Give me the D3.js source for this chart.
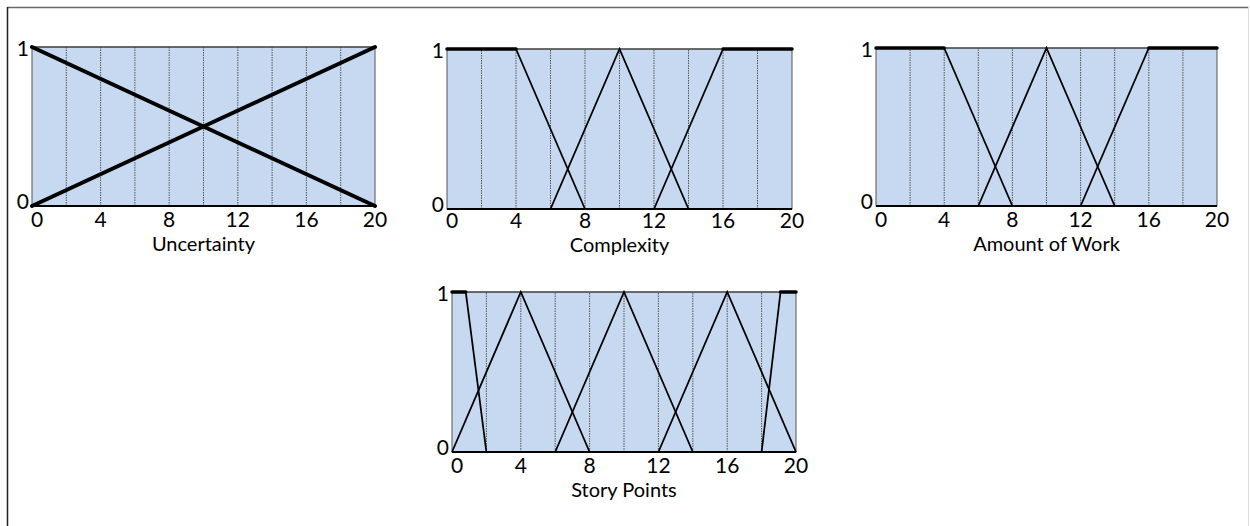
<!DOCTYPE html>
<html>
<head>
<meta charset="utf-8">
<script src="https://cdn.jsdelivr.net/npm/d3@7"></script>
<style>
  body { margin: 0; background: #fff; }
  text { font-family: Lato, "Open Sans", sans-serif; fill: #000; }
</style>
</head>
<body>
<div id="chart"></div>
<script>
// membership functions, [x, degree] points
var xTicks = [0, 4, 8, 12, 16, 20];
var yTicks = [0, 1];
var gridLines = [2, 4, 6, 8, 10, 12, 14, 16, 18];

var uncLow = [[0, 1], [20, 0]];
var uncHigh = [[0, 0], [20, 1]];

var cpxLowFlat = [[0, 1], [4, 1]];
var cpxLowRamp = [[4, 1], [8, 0]];
var cpxMid = [[6, 0], [10, 1], [14, 0]];
var cpxHighRamp = [[12, 0], [16, 1]];
var cpxHighFlat = [[16, 1], [20, 1]];

var workLowFlat = [[0, 1], [4, 1]];
var workLowRamp = [[4, 1], [8, 0]];
var workMid = [[6, 0], [10, 1], [14, 0]];
var workHighRamp = [[12, 0], [16, 1]];
var workHighFlat = [[16, 1], [20, 1]];

var spXsFlat = [[0, 1], [0.8, 1]];
var spXsRamp = [[0.8, 1], [2, 0]];
var spSmall = [[0, 0], [4, 1], [8, 0]];
var spMedium = [[6, 0], [10, 1], [14, 0]];
var spLarge = [[12, 0], [16, 1], [20, 0]];
var spXlRamp = [[18, 0], [19.1, 1]];
var spXlFlat = [[19.1, 1], [20, 1]];

var width = 1250, height = 526;

var svg = d3.select("#chart")
  .append("svg")
    .attr("width", width)
    .attr("height", height);

// outer frame
svg.append("line").attr("x1", 7).attr("x2", 1249).attr("y1", 7.5).attr("y2", 7.5)
  .attr("stroke", "#666").attr("stroke-width", 1.5);
svg.append("line").attr("x1", 7.5).attr("x2", 7.5).attr("y1", 7).attr("y2", height)
  .attr("stroke", "#222").attr("stroke-width", 1.5);
svg.append("line").attr("x1", 1248.5).attr("x2", 1248.5).attr("y1", 7).attr("y2", height)
  .attr("stroke", "#ddd").attr("stroke-width", 1);

var panels = [
  {title: "Uncertainty", left: 32, right: 375, top: 47, bottom: 206, tickDy: 21, titleDy: 45,
    thick: [uncLow, uncHigh], thin: [], thickW: 4},
  {title: "Complexity", left: 447, right: 792, top: 49, bottom: 209, tickDy: 19, titleDy: 43,
    thick: [cpxLowFlat, cpxHighFlat], thin: [cpxLowRamp, cpxMid, cpxHighRamp], thickW: 3.5},
  {title: "Amount of Work", left: 876, right: 1217, top: 48, bottom: 206, tickDy: 21, titleDy: 45,
    thick: [workLowFlat, workHighFlat], thin: [workLowRamp, workMid, workHighRamp], thickW: 3.5},
  {title: "Story Points", left: 452, right: 796, top: 292, bottom: 452, tickDy: 21, titleDy: 45,
    thick: [spXsFlat, spXlFlat], thin: [spXsRamp, spSmall, spMedium, spLarge, spXlRamp], thickW: 3.5}
];

panels.forEach(function(p) {
  var x = d3.scaleLinear().domain([0, 20]).range([p.left, p.right]);
  var y = d3.scaleLinear().domain([0, 1]).range([p.bottom, p.top]);
  var g = svg.append("g");

  g.append("rect")
    .attr("x", x(0)).attr("y", y(1))
    .attr("width", x(20) - x(0)).attr("height", y(0) - y(1))
    .attr("fill", "#c6d9f0")
    .attr("stroke", "#555").attr("stroke-width", 1);

  g.selectAll(".grid").data(gridLines).enter().append("line")
    .attr("x1", function(d) { return x(d); }).attr("x2", function(d) { return x(d); })
    .attr("y1", y(0)).attr("y2", y(1))
    .attr("stroke", "#555").attr("stroke-width", 1)
    .attr("stroke-dasharray", "1.5,1");

  g.append("line")
    .attr("x1", x(0)).attr("x2", x(20)).attr("y1", y(0)).attr("y2", y(0))
    .attr("stroke", "#000").attr("stroke-width", 2);
  g.append("line")
    .attr("x1", x(0)).attr("x2", x(20)).attr("y1", y(1)).attr("y2", y(1))
    .attr("stroke", "#333").attr("stroke-width", 1.2);

  var line = d3.line().x(function(d) { return x(d[0]); }).y(function(d) { return y(d[1]); });

  p.thin.forEach(function(s) {
    g.append("path").attr("d", line(s)).attr("fill", "none")
      .attr("stroke", "#000").attr("stroke-width", 1.8);
  });
  p.thick.forEach(function(s) {
    g.append("path").attr("d", line(s)).attr("fill", "none")
      .attr("stroke", "#000").attr("stroke-width", p.thickW).attr("stroke-linecap", "round");
  });

  // x tick labels
  g.selectAll(".xt").data(xTicks).enter().append("text")
    .attr("x", function(d) { return x(d) + (d === 0 ? 5 : 0); })
    .attr("y", y(0) + p.tickDy)
    .attr("text-anchor", "middle")
    .style("font-size", "21px")
    .text(function(d) { return d; });

  // y tick labels
  g.selectAll(".yt").data(yTicks).enter().append("text")
    .attr("x", x(0) - 3)
    .attr("y", function(d) { return d === 1 ? y(d) + 9 : y(d) + 3; })
    .attr("text-anchor", "end")
    .style("font-size", "21px")
    .text(function(d) { return d; });

  g.append("text")
    .attr("x", (p.left + p.right) / 2)
    .attr("y", y(0) + p.titleDy)
    .attr("text-anchor", "middle")
    .style("font-size", "20px")
    .text(p.title);
});
</script>
</body>
</html>
